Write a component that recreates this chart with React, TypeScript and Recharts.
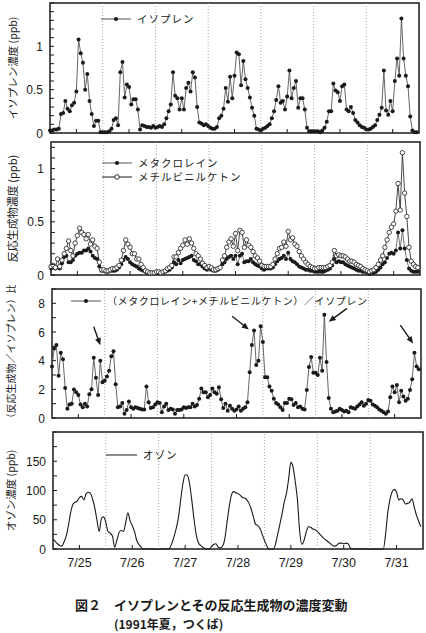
import React from "react";
import { LineChart, Line, XAxis, YAxis, ReferenceLine, ReferenceArea } from "recharts";

// day labels (one per day, label sits at noon)
const dayLabels = ["7/25", "7/26", "7/27", "7/28", "7/29", "7/30", "7/31"];
const noonTicks = [12, 36, 60, 84, 108, 132, 156];
const midnightLines = [24, 48, 72, 96, 120, 144];

// hourly isoprene (ppb), 7/25 0h .. 7/31 23h
const isoprene = [
  0.03, 0.03, 0.04, 0.04, 0.05, 0.22, 0.23, 0.37, 0.28, 0.25, 0.32, 0.35, 0.48, 1.08, 0.92, 0.81, 0.5, 0.68, 0.37, 0.22, 0.08, 0.14, 0.14, 0.01,
  0.01, 0.01, 0.01, 0.02, 0.05, 0.15, 0.17, 0.09, 0.7, 0.82, 0.41, 0.56, 0.53, 0.33, 0.39, 0.39, 0.27, 0.04, 0.09, 0.08, 0.07, 0.07, 0.06, 0.08,
  0.06, 0.07, 0.08, 0.07, 0.1, 0.17, 0.25, 0.33, 0.7, 0.43, 0.4, 0.27, 0.4, 0.27, 0.52, 0.58, 0.48, 0.7, 0.64, 0.3, 0.12, 0.11, 0.09, 0.1,
  0.08, 0.06, 0.05, 0.05, 0.07, 0.17, 0.2, 0.28, 0.52, 0.36, 0.65, 0.4, 0.66, 0.93, 0.91, 0.55, 0.83, 0.62, 0.52, 0.41, 0.29, 0.2, 0.05, 0.04,
  0.03, 0.05, 0.06, 0.08, 0.1, 0.17, 0.25, 0.38, 0.54, 0.35, 0.37, 0.27, 0.42, 0.72, 0.4, 0.52, 0.6, 0.29, 0.4, 0.4, 0.27, 0.06, 0.02, 0.02,
  0.02, 0.02, 0.02, 0.01, 0.03, 0.06, 0.13, 0.25, 0.25, 0.57, 0.49, 0.47, 0.37, 0.54, 0.56, 0.27, 0.25, 0.3, 0.23, 0.15, 0.12, 0.09, 0.07, 0.06,
  0.04, 0.04, 0.05, 0.07, 0.09, 0.15, 0.21, 0.29, 0.72, 0.26, 0.21, 0.37, 0.25, 0.6, 0.86, 0.66, 1.32, 0.86, 0.66, 0.54, 0.19, 0.03, 0.01, 0.01,
];

// methacrolein (ppb)
const macr = [
  0.06, 0.07, 0.06, 0.07, 0.06, 0.11, 0.17, 0.18, 0.12, 0.12, 0.14, 0.18, 0.2, 0.21, 0.21, 0.23, 0.23, 0.25, 0.22, 0.18, 0.16, 0.15, 0.08, 0.04,
  0.04, 0.03, 0.03, 0.04, 0.04, 0.04, 0.05, 0.07, 0.1, 0.14, 0.17, 0.15, 0.12, 0.1, 0.09, 0.08, 0.06, 0.05, 0.04, 0.03, 0.02, 0.02, 0.02, 0.02,
  0.02, 0.02, 0.02, 0.02, 0.03, 0.04, 0.05, 0.07, 0.12, 0.1, 0.14, 0.11, 0.14, 0.15, 0.16, 0.17, 0.18, 0.14, 0.13, 0.1, 0.1, 0.08, 0.06, 0.05,
  0.06, 0.05, 0.04, 0.04, 0.05, 0.07, 0.1, 0.12, 0.15, 0.17, 0.18, 0.15, 0.18, 0.1, 0.18, 0.2, 0.12, 0.13, 0.13, 0.15, 0.12, 0.1, 0.09, 0.08,
  0.06, 0.05, 0.06, 0.06, 0.06, 0.07, 0.1, 0.13, 0.15, 0.16, 0.18, 0.15, 0.21, 0.15, 0.13, 0.12, 0.1, 0.08, 0.07, 0.06, 0.05, 0.05, 0.04, 0.04,
  0.03, 0.03, 0.03, 0.03, 0.03, 0.04, 0.05, 0.06, 0.09, 0.15, 0.12, 0.13, 0.12, 0.12, 0.1, 0.09, 0.08, 0.07, 0.06, 0.05, 0.04, 0.04, 0.03, 0.03,
  0.02, 0.01, 0.02, 0.02, 0.03, 0.05, 0.07, 0.1, 0.12, 0.16, 0.2, 0.21, 0.2, 0.23, 0.4, 0.25, 0.42, 0.25, 0.14, 0.06, 0.04, 0.03, 0.03, 0.03,
];

// methyl vinyl ketone (ppb)
const mvk = [
  0.08, 0.09, 0.07, 0.15, 0.08, 0.14, 0.2, 0.25, 0.32, 0.23, 0.18, 0.3, 0.37, 0.44, 0.4, 0.38, 0.34, 0.38, 0.29, 0.33, 0.27, 0.25, 0.12, 0.05,
  0.05, 0.04, 0.04, 0.05, 0.06, 0.06, 0.07, 0.09, 0.14, 0.23, 0.33, 0.29, 0.26, 0.2, 0.2, 0.15, 0.15, 0.1, 0.07, 0.04, 0.03, 0.02, 0.02, 0.02,
  0.03, 0.03, 0.02, 0.03, 0.04, 0.06, 0.07, 0.09, 0.17, 0.17, 0.21, 0.25, 0.28, 0.33, 0.29, 0.34, 0.3, 0.25, 0.2, 0.18, 0.15, 0.11, 0.09, 0.07,
  0.08, 0.07, 0.05, 0.05, 0.06, 0.07, 0.14, 0.18, 0.26, 0.31, 0.34, 0.27, 0.39, 0.23, 0.42, 0.4, 0.26, 0.33, 0.28, 0.26, 0.22, 0.18, 0.16, 0.13,
  0.09, 0.08, 0.08, 0.08, 0.08, 0.1, 0.15, 0.2, 0.25, 0.26, 0.31, 0.27, 0.41, 0.33, 0.35, 0.29, 0.27, 0.22, 0.18, 0.15, 0.12, 0.1, 0.08, 0.07,
  0.06, 0.06, 0.07, 0.07, 0.07, 0.07, 0.08, 0.09, 0.12, 0.23, 0.18, 0.19, 0.18, 0.18, 0.17, 0.15, 0.13, 0.13, 0.12, 0.1, 0.09, 0.08, 0.06, 0.05,
  0.04, 0.03, 0.04, 0.05, 0.07, 0.1, 0.14, 0.18, 0.26, 0.33, 0.4, 0.45, 0.48, 0.6, 0.86, 0.61, 1.15, 0.77, 0.55, 0.26, 0.13, 0.1, 0.08, 0.07,
];

// (MACR + MVK) / isoprene ratio
const ratio = [
  3.6, 4.85, 5.1, 2.95, 4.55, 4.1, 2.1, 0.65, 0.95, 1.0, 1.98, 1.8, 1.6, 0.95, 0.75, 1.0, 0.8, 1.65, 2.0, 4.2, 2.8, 1.6, 4.0, 2.5,
  2.6, 2.9, 3.3, 4.3, 4.65, 2.35, 0.75, 0.8, 1.05, 0.3, 0.55, 1.15, 0.75, 0.65, 0.75, 0.7, 0.65, 0.6, 0.6, 2.2, 1.1, 0.7, 0.75, 0.95,
  1.1, 1.05, 0.4, 0.8, 1.0, 0.55, 0.65, 0.6, 0.3, 0.55, 0.55, 0.6, 0.75, 0.7, 0.75, 0.75, 1.0, 0.8, 0.9, 1.35, 2.05, 1.8, 1.8, 1.45,
  1.6, 2.05, 1.8, 1.7, 2.15, 1.3, 0.7, 1.0, 0.5, 0.85, 0.65, 0.5, 0.6, 0.8, 0.5, 0.65, 0.75, 1.1, 3.2, 5.1, 6.1, 3.7, 4.0, 6.4,
  5.3, 2.85, 2.85, 2.2, 1.9, 1.35, 1.05, 0.95, 0.75, 0.55, 1.05, 1.05, 1.35, 1.3, 0.9, 1.05, 0.75, 0.8, 0.65, 0.6, 1.95, 3.55, 4.25, 3.15,
  3.15, 3.0, 4.2, 3.3, 7.2, 3.9, 1.4, 0.65, 0.4, 0.45, 0.5, 0.65, 0.55, 0.45, 0.5, 0.4, 0.75, 0.7, 0.65, 0.8, 0.95, 1.1, 0.85, 1.0,
  1.25, 1.2, 0.95, 0.85, 0.75, 0.6, 0.5, 0.4, 0.3, 0.45, 1.45, 2.2, 1.8, 2.3, 1.1, 1.9, 1.5, 1.2, 1.35, 1.95, 2.7, 4.55, 3.6, 3.4,
];

// ozone (ppb)
const ozone = [
  17, 13, 9, 6, 5, 12, 22, 40, 62, 76, 80, 82, 88, 90, 84, 94, 97, 95, 85, 70, 48, 30, 52, 55,
  45, 30, 27, 22, 3, 15, 28, 32, 30, 45, 62, 48, 40, 30, 15, 8, 3, 0, 0, 0, 0, 0, 0, 0,
  0, 0, 0, 0, 0, 2, 10, 22, 36, 55, 85, 112, 127, 126, 112, 84, 52, 25, 11, 6, 3, 1, 0, 0,
  4, 8, 9, 3, 2, 5, 17, 45, 72, 92, 98, 96, 95, 92, 88, 87, 84, 78, 68, 55, 42, 40, 35, 25,
  15, 6, 0, 0, 0, 8, 25, 42, 60, 80, 95, 120, 148, 140, 115, 84, 30, 8, 15, 29, 38, 37, 34, 33,
  30, 26, 22, 18, 15, 12, 9, 6, 5, 7, 10, 10, 9, 10, 9, 2, 0, 0, 0, 0, 0, 0, 0, 0,
  0, 0, 0, 0, 0, 0, 0, 25, 62, 85, 98, 102, 97, 84, 86, 84, 77, 78, 80, 86, 72, 58, 48, 38,
];

// arrows in the ratio panel: [fromHour, fromValue, toHour, toValue]
const ratioArrows = [
  [19.0, 6.36, 22.0, 5.08],
  [82.0, 7.1, 89.6, 6.18],
  [134.3, 7.65, 126.0, 6.71],
  [158.6, 6.48, 164.4, 5.2],
];

const isoTicks = [0, 0.1, 0.2, 0.3, 0.4, 0.5, 0.6, 0.7, 0.8, 0.9, 1, 1.1, 1.2, 1.3, 1.4, 1.5];
const prodTicks = [0, 0.1, 0.2, 0.3, 0.4, 0.5, 0.6, 0.7, 0.8, 0.9, 1, 1.1, 1.2];
const ratioTicks = [0, 1, 2, 3, 4, 5, 6, 7, 8, 9];
const ozoneTicks = [0, 25, 50, 75, 100, 125, 150, 175, 200];

const rows = isoprene.map((v, h) => ({
  h,
  isoprene: v,
  macr: macr[h],
  mvk: mvk[h],
  ratio: ratio[h],
  ozone: ozone[h],
}));

const INK = "#1a1a1a";
const NUM_FONT = '"Liberation Sans", Arial, sans-serif';
const JP_FONT = '"Noto Sans CJK JP", sans-serif';
const W = 426;

function makeYTick(labels: number[]) {
  return (props: any) => {
    const { x, y, payload } = props;
    const v = payload.value;
    return (
      <g>
        <line x1={x + 7} x2={x + 11} y1={y} y2={y} stroke={INK} strokeWidth={1} />
        {labels.includes(v) && (
          <text x={x} y={y} dy={4.5} textAnchor="end" fontSize={12} fontFamily={NUM_FONT} fill={INK}>
            {String(v)}
          </text>
        )}
      </g>
    );
  };
}

function makeXTick(showLabel: boolean) {
  return (props: any) => {
    const { x, y, payload } = props;
    const i = noonTicks.indexOf(payload.value);
    return (
      <g>
        <line x1={x} x2={x} y1={y} y2={y - 4} stroke={INK} strokeWidth={1} />
        {showLabel && (
          <text x={x} y={y + 18} textAnchor="middle" fontSize={12.5} fontFamily={NUM_FONT} fill={INK}>
            {dayLabels[i]}
          </text>
        )}
      </g>
    );
  };
}

function yTitle(text: string, x: number, size: number) {
  return {
    content: (p: any) => {
      const vb = p.viewBox || {};
      const cy = vb.y + vb.height / 2;
      return (
        <text
          x={x}
          y={cy}
          transform={`rotate(-90, ${x}, ${cy})`}
          textAnchor="middle"
          dominantBaseline="central"
          fontSize={size}
          fontFamily={JP_FONT}
          fill={INK}
        >
          {text}
        </text>
      );
    },
  };
}

function ArrowShape(props: any) {
  const { x1, y1, x2, y2 } = props;
  const ang = Math.atan2(y2 - y1, x2 - x1);
  const len = 7;
  const half = 3;
  const bx = x2 - len * Math.cos(ang);
  const by = y2 - len * Math.sin(ang);
  const px = -Math.sin(ang) * half;
  const py = Math.cos(ang) * half;
  return (
    <g>
      <line x1={x1} y1={y1} x2={bx + Math.cos(ang) * 2} y2={by + Math.sin(ang) * 2} stroke={INK} strokeWidth={1.4} />
      <path d={`M${x2},${y2} L${bx + px},${by + py} L${bx - px},${by - py} Z`} fill={INK} />
    </g>
  );
}

function LegendRow({ left, top, len, marker, text, gap = 6, lineColor = "#555", size = 10.5, spacing = 1 }: any) {
  return (
    <div style={{ position: "absolute", left, top: top - 8, height: 16, display: "flex", alignItems: "center" }}>
      <svg width={len} height={16} style={{ display: "block" }}>
        <line x1={0} x2={len} y1={8} y2={8} stroke={lineColor} strokeWidth={1} />
        {marker === "filled" && <circle cx={len / 2} cy={8} r={2.1} fill={INK} />}
        {marker === "open" && <circle cx={len / 2} cy={8} r={2.3} fill="#fff" stroke={INK} strokeWidth={0.9} />}
      </svg>
      <span style={{ marginLeft: gap, fontFamily: JP_FONT, fontSize: size, letterSpacing: spacing, color: INK, whiteSpace: "nowrap", lineHeight: "16px" }}>
        {text}
      </span>
    </div>
  );
}

const frame = (top: number) => (
  <ReferenceArea x1={0} x2={168} y1={0} y2={top} fill="none" stroke={INK} strokeWidth={1.5} ifOverflow="visible" />
);

const dayLines = midnightLines.map((m) => (
  <ReferenceLine key={m} x={m} stroke="#8a8a8a" strokeDasharray="1 2" strokeWidth={0.8} />
));

const filledDot = { r: 2, fill: INK, stroke: INK, strokeWidth: 0 };

export default function App() {
  return (
    <div style={{ position: "absolute", left: 0, top: 0, width: W, height: 633, background: "#fff", overflow: "hidden" }}>
      {/* isoprene */}
      <div style={{ position: "absolute", left: 0, top: 0 }}>
        <LineChart width={W} height={145} data={rows} margin={{ top: 3, right: 7, bottom: 0, left: 0 }}>
          <XAxis dataKey="h" type="number" domain={[0, 168]} ticks={noonTicks} interval={0} height={12} axisLine={false} tickLine={false} tickSize={0} tickMargin={0} tick={makeXTick(false)} />
          <YAxis type="number" domain={[0, 1.5]} ticks={isoTicks} interval={0} width={50} axisLine={false} tickLine={false} tickSize={0} tickMargin={7} tick={makeYTick([0, 0.5, 1])} label={yTitle("イソプレン濃度 (ppb)", 12, 10.5)} />
          {dayLines}
          {frame(1.5)}
          <Line dataKey="isoprene" stroke="#555" strokeWidth={0.9} dot={filledDot} isAnimationActive={false} />
        </LineChart>
      </div>

      {/* reaction products */}
      <div style={{ position: "absolute", left: 0, top: 140 }}>
        <LineChart width={W} height={145} data={rows} margin={{ top: 2, right: 6, bottom: 0, left: 0 }}>
          <XAxis dataKey="h" type="number" domain={[0, 168]} ticks={noonTicks} interval={0} height={10} axisLine={false} tickLine={false} tickSize={0} tickMargin={0} tick={makeXTick(false)} />
          <YAxis type="number" domain={[0, 1.25]} ticks={prodTicks} interval={0} width={51} axisLine={false} tickLine={false} tickSize={0} tickMargin={7} tick={makeYTick([0, 0.5, 1])} label={yTitle("反応生成物濃度 (ppb)", 12, 11)} />
          {dayLines}
          {frame(1.25)}
          <Line dataKey="macr" stroke="#666" strokeWidth={0.9} dot={filledDot} isAnimationActive={false} />
          <Line dataKey="mvk" stroke="#333" strokeWidth={0.9} dot={{ r: 2.2, fill: "#fff", stroke: INK, strokeWidth: 0.8 }} isAnimationActive={false} />
        </LineChart>
      </div>

      {/* ratio */}
      <div style={{ position: "absolute", left: 0, top: 285 }}>
        <LineChart width={W} height={145} data={rows} margin={{ top: 4, right: 5, bottom: 0, left: 0 }}>
          <XAxis dataKey="h" type="number" domain={[0, 168]} ticks={noonTicks} interval={0} height={12} axisLine={false} tickLine={false} tickSize={0} tickMargin={0} tick={makeXTick(false)} />
          <YAxis type="number" domain={[0, 9]} ticks={ratioTicks} interval={0} width={52} axisLine={false} tickLine={false} tickSize={0} tickMargin={7} tick={makeYTick([0, 2, 4, 6, 8])} label={yTitle("（反応生成物／イソプレン）比", 10, 10)} />
          {dayLines}
          {frame(9)}
          <Line dataKey="ratio" stroke="#555" strokeWidth={0.9} dot={filledDot} isAnimationActive={false} />
          {ratioArrows.map((a, i) => (
            <ReferenceLine key={i} segment={[{ x: a[0], y: a[1] }, { x: a[2], y: a[3] }]} shape={ArrowShape} />
          ))}
        </LineChart>
      </div>

      {/* ozone */}
      <div style={{ position: "absolute", left: 0, top: 430 }}>
        <LineChart width={W} height={140} data={rows} margin={{ top: 2, right: 3, bottom: 0, left: 0 }}>
          <XAxis dataKey="h" type="number" domain={[0, 168]} ticks={noonTicks} interval={0} height={21} axisLine={false} tickLine={false} tickSize={0} tickMargin={0} tick={makeXTick(true)} />
          <YAxis type="number" domain={[0, 200]} ticks={ozoneTicks} interval={0} width={53} axisLine={false} tickLine={false} tickSize={0} tickMargin={7} tick={makeYTick([0, 50, 100, 150])} label={yTitle("オゾン濃度 (ppb)", 10, 10.5)} />
          {dayLines}
          {frame(200)}
          <Line dataKey="ozone" type="monotone" stroke={INK} strokeWidth={1.1} dot={false} isAnimationActive={false} />
        </LineChart>
      </div>

      <LegendRow left={101} top={19} len={30} marker="filled" text="イソプレン" />
      <LegendRow left={102} top={163} len={30} marker="filled" text="メタクロレイン" />
      <LegendRow left={102} top={177} len={30} marker="open" text="メチルビニルケトン" lineColor={INK} />
      <LegendRow left={71} top={301} len={30} marker="filled" text="（メタクロレイン+メチルビニルケトン）／イソプレン" gap={6} size={10} spacing={0.6} />
      <LegendRow left={106} top={455} len={31} marker="none" text="オゾン" lineColor={INK} />

      <div style={{ position: "absolute", left: 75, top: 597, fontFamily: JP_FONT, fontWeight: 700, fontSize: 13, lineHeight: "16px", color: INK, whiteSpace: "nowrap" }}>
        図２　イソプレンとその反応生成物の濃度変動
      </div>
      <div style={{ position: "absolute", left: 114, top: 617, fontFamily: JP_FONT, fontWeight: 700, fontSize: 12, lineHeight: "14px", color: INK, whiteSpace: "nowrap" }}>
        (1991年夏，つくば)
      </div>
    </div>
  );
}
